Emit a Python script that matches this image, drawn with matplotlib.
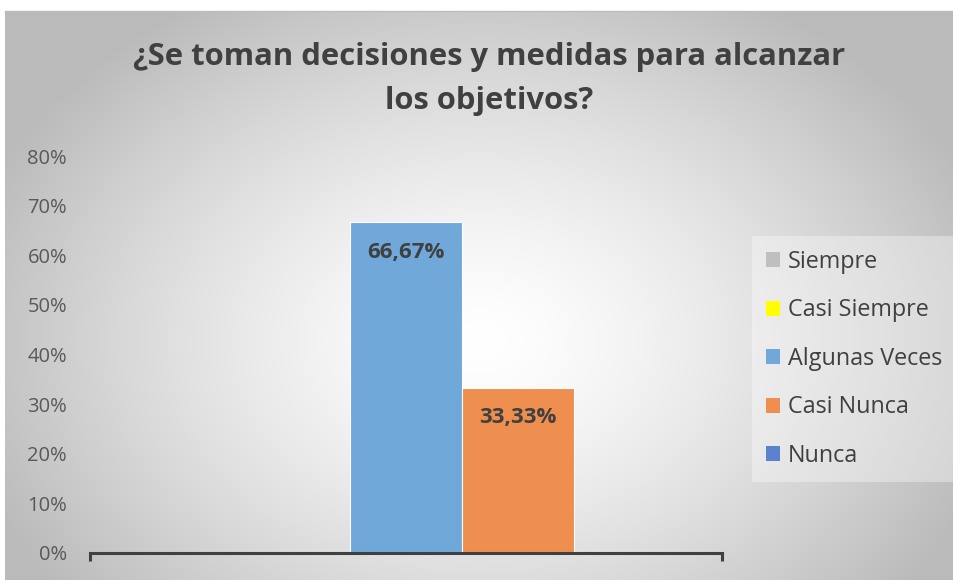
import matplotlib

matplotlib.use("Agg")
import matplotlib.pyplot as plt
import numpy as np
from matplotlib.patches import Patch

plt.rcParams["font.family"] = ["Open Sans", "DejaVu Sans"]

title = "¿Se toman decisiones y medidas para alcanzar\nlos objetivos?"
series = ["Siempre", "Casi Siempre", "Algunas Veces", "Casi Nunca", "Nunca"]
values = [0.0, 0.0, 66.67, 33.33, 0.0]
labels = ["", "", "66,67%", "33,33%", ""]
colors = ["#bfbfbf", "#ffff00", "#70a8da", "#ef8f4f", "#5a82cf"]
yticks = [0, 10, 20, 30, 40, 50, 60, 70, 80]

W, H = 954, 580
fig = plt.figure(figsize=(W / 100, H / 100), dpi=100)
fig.patch.set_facecolor("white")

# radial gradient background of the chart area
bg = fig.add_axes([5 / W, 0, 1 - 5 / W, 1 - 11 / H])
yy, xx = np.mgrid[0:570, 0:949]
cx, cy = 475, 330
r = np.sqrt(((xx - cx) / 540.0) ** 2 + ((yy - cy) / 400.0) ** 2)
shade = 1.0 - 0.27 * np.clip(r, 0, 1) ** 1.4
bg.imshow(np.dstack([shade] * 3), aspect="auto", extent=[0, 1, 0, 1])
bg.set_axis_off()
fig.add_artist(plt.Line2D([5 / W, 1], [1 - 11 / H, 1 - 11 / H], color="#bdbdbd", lw=1))

# main axes
ax = fig.add_axes([90 / W, 27 / H, 632 / W, 397 / H])
ax.patch.set_alpha(0)
w = 112 / 632
for i, (name, v, c, lab) in enumerate(zip(series, values, colors, labels)):
    x = (i - 2) * w
    ax.bar(x, v, width=w, color=c, edgecolor="white", linewidth=0.8, label=name)
    if lab:
        ax.text(x, v - 4.0, lab, ha="center", va="top", fontsize=16,
                fontweight="bold", color="#404040")

ax.set_xlim(-0.5, 0.5)
ax.set_ylim(0, 80)
ax.set_yticks(yticks)
ax.set_yticklabels([f"{t}%" for t in yticks])
ax.set_xticks([])
ax.tick_params(axis="y", length=0, pad=16.5, labelsize=14.5, labelcolor="#595959")
for s in ["top", "right", "left"]:
    ax.spines[s].set_visible(False)
ax.spines["bottom"].set_color("#404040")
ax.spines["bottom"].set_linewidth(2.2)
# end tick marks of the category axis
for xe in (-0.5, 0.5):
    ax.plot([xe, xe], [0, -1.6], color="#404040", lw=2.2, clip_on=False,
            solid_capstyle="butt")

fig.text(489 / W, 1 - 79 / H, title, ha="center", va="center", fontsize=22.3,
         fontweight="bold", color="#404040", linespacing=1.6)

handles = [Patch(facecolor=c, edgecolor="none") for c in colors]
leg = fig.legend(handles, series, loc="upper left",
                 bbox_to_anchor=(752 / W, 1 - 236 / H), frameon=True,
                 fontsize=16.8, labelspacing=1.05, handlelength=0.6,
                 handleheight=0.6, handletextpad=0.35, borderpad=0.6,
                 borderaxespad=0)
leg.get_frame().set_facecolor("white")
leg.get_frame().set_alpha(0.35)
leg.get_frame().set_edgecolor("none")
leg.get_frame().set_boxstyle("square", pad=0)
for t in leg.get_texts():
    t.set_color("#404040")

fig.savefig("out.png", dpi=100)
